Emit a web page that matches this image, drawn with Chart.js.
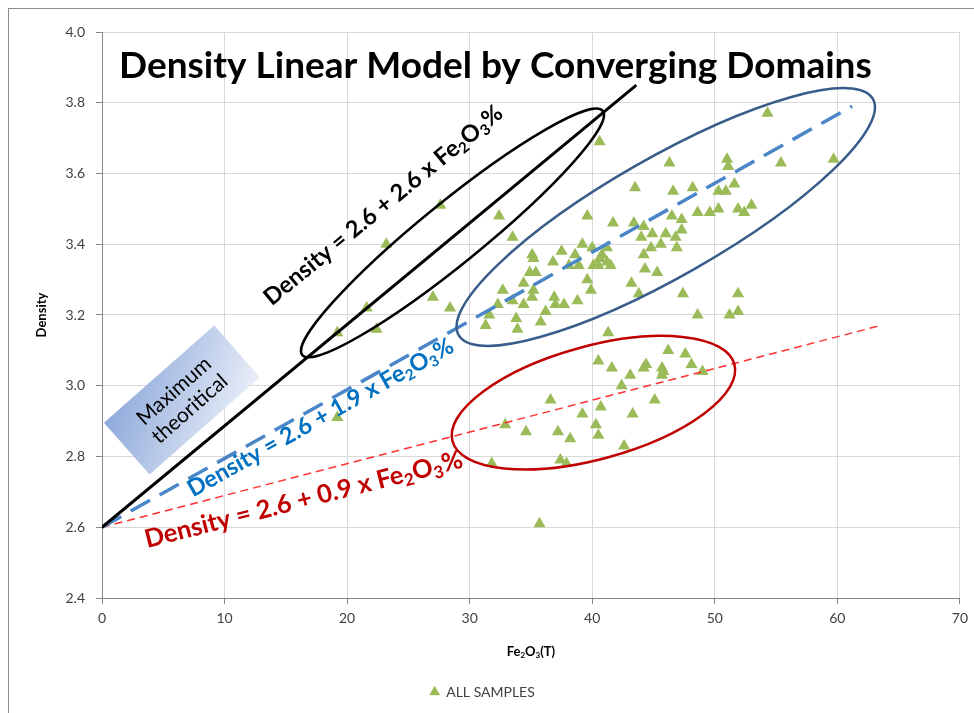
<!DOCTYPE html>
<html>
<head>
<meta charset="utf-8">
<script src="https://cdn.jsdelivr.net/npm/chart.js@4.4.1/dist/chart.umd.min.js"></script>
<style>
  html, body { margin: 0; padding: 0; background: #fff; overflow: hidden; }
  #wrap { width: 974px; height: 713px; }
</style>
</head>
<body>
<div id="wrap"><canvas id="c" width="974" height="713"></canvas></div>
<script>
// ── samples (Fe2O3 %, density) ──
const sampleX = [19.2, 19.2, 21.6, 22.4, 23.2, 27.6, 27.0, 28.4, 32.4, 33.5, 40.6, 39.6, 35.1, 35.2, 37.5, 36.8, 38.6, 38.1, 38.9, 39.2,
  40.0, 40.1, 34.9, 35.4, 34.4, 35.2, 35.1, 32.7, 33.5, 32.3, 34.4, 36.9, 37.0, 37.7, 38.8, 39.6, 39.9, 36.2, 35.8, 31.6,
  31.3, 33.8, 33.9, 46.3, 51.0, 51.1, 43.5, 46.6, 48.2, 50.3, 50.9, 51.6, 53.0, 51.9, 52.4, 48.6, 49.6, 50.3, 41.7, 43.4,
  46.5, 47.3, 47.3, 44.2, 44.0, 44.9, 46.0, 46.8, 45.6, 44.8, 46.9, 41.2, 40.8, 41.2, 40.6, 41.5, 40.5, 44.2, 44.3, 45.3,
  43.2, 43.8, 47.4, 51.9, 48.6, 51.2, 51.9, 41.3, 54.3, 55.4, 59.7, 40.5, 41.6, 36.6, 39.2, 40.7, 40.3, 40.5, 32.9, 34.6,
  37.2, 38.2, 31.8, 37.4, 37.9, 35.7, 46.2, 47.6, 48.1, 49.0, 43.1, 44.4, 44.2, 45.7, 45.8, 45.7, 42.4, 45.1, 43.3, 42.6];
const sampleY = [2.91, 3.15, 3.22, 3.16, 3.40, 3.51, 3.25, 3.22, 3.48, 3.42, 3.69, 3.48, 3.37, 3.36, 3.38, 3.35, 3.37, 3.34, 3.34, 3.40,
  3.39, 3.34, 3.32, 3.32, 3.29, 3.27, 3.25, 3.27, 3.24, 3.23, 3.23, 3.25, 3.23, 3.23, 3.24, 3.30, 3.27, 3.21, 3.18, 3.20,
  3.17, 3.19, 3.16, 3.63, 3.64, 3.62, 3.56, 3.55, 3.56, 3.55, 3.55, 3.57, 3.51, 3.50, 3.49, 3.49, 3.49, 3.50, 3.46, 3.46,
  3.48, 3.47, 3.44, 3.45, 3.42, 3.43, 3.43, 3.42, 3.40, 3.39, 3.39, 3.39, 3.37, 3.35, 3.36, 3.34, 3.34, 3.37, 3.33, 3.32,
  3.29, 3.26, 3.26, 3.26, 3.20, 3.20, 3.21, 3.15, 3.77, 3.63, 3.64, 3.07, 3.05, 2.96, 2.92, 2.94, 2.89, 2.86, 2.89, 2.87,
  2.87, 2.85, 2.78, 2.79, 2.78, 2.61, 3.10, 3.09, 3.06, 3.04, 3.03, 3.06, 3.05, 3.05, 3.04, 3.03, 3.00, 2.96, 2.92, 2.83];

// ── model lines (end points) ──
const maxLineX = [0, 43.6],  maxLineY = [2.6, 3.85];
const blueLineX = [0, 61.2], blueLineY = [2.6, 3.79];
const redLineX = [0, 63.5],  redLineY = [2.6, 3.17];

// ── axes ──
const xMin = 0, xMax = 70, xStep = 10;
const yMin = 2.4, yMax = 4.0, yStep = 0.2;

// ── annotations: domain ellipses (centre, end of major axis, minor/major ratio) ──
const ellipseCx = [28.6, 46.0, 40.1];
const ellipseCy = [3.432, 3.477, 2.952];
const ellipseEx = [40.86, 62.9, 51.6];
const ellipseEy = [3.777, 3.811, 3.061];
const ellipseRatio = [0.158, 0.249, 0.387];
const ellipseColor = ['#000000', '#385d8a', '#c00000'];

// equation labels
const eqCoef = ['2.6', '1.9', '0.9'];
const eqX = [22.95, 17.84, 16.46];
const eqY = [3.51, 2.91, 2.678];
const eqAngle = [-39.3, -29.2, -14.3];
const eqSize = [23.5, 23.5, 25.5];
const eqColor = ['#000000', '#0070c0', '#c00000'];

const FONT = 'Lato, "Open Sans", sans-serif';

function toPts(xs, ys) { return xs.map((x, i) => ({ x, y: ys[i] })); }

function drawRich(ctx, parts, x, y, angleDeg, size, color, weight) {
  ctx.save();
  ctx.translate(x, y);
  ctx.rotate(angleDeg * Math.PI / 180);
  ctx.fillStyle = color;
  ctx.textBaseline = 'middle';
  ctx.textAlign = 'left';
  const big = `${weight} ${size}px ${FONT}`, small = `${weight} ${Math.round(size * 0.65)}px ${FONT}`;
  let w = 0;
  parts.forEach(p => { ctx.font = p.sub ? small : big; w += ctx.measureText(p.t).width; });
  let cx = -w / 2;
  parts.forEach(p => {
    ctx.font = p.sub ? small : big;
    ctx.fillText(p.t, cx, p.sub ? size * 0.28 : 0);
    cx += ctx.measureText(p.t).width;
  });
  ctx.restore();
}

function eqParts(c) {
  return [{ t: 'Density = 2.6 + ' + c + ' x Fe' }, { t: '2', sub: true }, { t: 'O' }, { t: '3', sub: true }, { t: '%' }];
}

const decor = {
  id: 'decor',
  beforeDraw(chart) {
    const ctx = chart.ctx;
    ctx.save();
    ctx.strokeStyle = '#8c8c8c';
    ctx.lineWidth = 1;
    ctx.strokeRect(8.5, 8.5, 1200, 1200);
    ctx.restore();
  },
  afterDatasetsDraw(chart) {
    const ctx = chart.ctx, xs = chart.scales.x, ys = chart.scales.y;
    const px = v => xs.getPixelForValue(v), py = v => ys.getPixelForValue(v);

    // ellipses
    ellipseCx.forEach((cx, i) => {
      const x0 = px(cx), y0 = py(ellipseCy[i]);
      const x1 = px(ellipseEx[i]), y1 = py(ellipseEy[i]);
      const a = Math.hypot(x1 - x0, y1 - y0), rot = Math.atan2(y1 - y0, x1 - x0);
      ctx.save();
      ctx.beginPath();
      ctx.ellipse(x0, y0, a, a * ellipseRatio[i], rot, 0, Math.PI * 2);
      ctx.strokeStyle = ellipseColor[i];
      ctx.lineWidth = 2.5;
      ctx.stroke();
      ctx.restore();
    });

    // "Maximum theoritical" box (gradient runs left -> right on screen)
    ctx.save();
    ctx.translate(px(6.52), py(2.96));
    const ang = -41.4 * Math.PI / 180, co = Math.cos(ang), si = Math.sin(ang);
    const bw = 147, bh = 69;
    const corner = (u, v) => [u * co - v * si, u * si + v * co];
    ctx.beginPath();
    [[-1, -1], [1, -1], [1, 1], [-1, 1]].forEach(([su, sv], k) => {
      const [cx, cy] = corner(su * bw / 2, sv * bh / 2);
      if (k === 0) ctx.moveTo(cx, cy); else ctx.lineTo(cx, cy);
    });
    ctx.closePath();
    const g = ctx.createLinearGradient(-68, -24, 68, 24);
    g.addColorStop(0, '#8aa6d9');
    g.addColorStop(1, '#eef2fa');
    ctx.fillStyle = g;
    ctx.fill();
    ctx.rotate(ang);
    ctx.fillStyle = '#000';
    ctx.font = `21px ${FONT}`;
    ctx.textAlign = 'center';
    ctx.textBaseline = 'middle';
    ctx.fillText('Maximum', 0, -12);
    ctx.fillText('theoritical', 0, 12);
    ctx.restore();

    // equation labels
    eqCoef.forEach((c, i) => drawRich(ctx, eqParts(c), px(eqX[i]), py(eqY[i]), eqAngle[i], eqSize[i], eqColor[i], 'bold'));

    // title
    ctx.save();
    ctx.fillStyle = '#000';
    ctx.font = `bold 37px ${FONT}`;
    ctx.textAlign = 'center';
    ctx.textBaseline = 'middle';
    ctx.fillText('Density Linear Model by Converging Domains', px(32.1), py(3.905));
    ctx.restore();

    // x axis title with subscripts
    drawRich(ctx, [{ t: 'Fe' }, { t: '2', sub: true }, { t: 'O' }, { t: '3', sub: true }, { t: '(T)' }],
      (chart.chartArea.left + chart.chartArea.right) / 2, xs.bottom - 23, 0, 13, '#000', 'bold');
  }
};

new Chart(document.getElementById('c'), {
  type: 'scatter',
  data: {
    datasets: [
      {
        label: 'ALL SAMPLES', data: toPts(sampleX, sampleY), order: 5,
        pointStyle: 'triangle', pointRadius: 7, pointHoverRadius: 7,
        backgroundColor: '#9bbb59', borderColor: '#9bbb59', borderWidth: 0
      },
      { type: 'line', label: 'max', data: toPts(maxLineX, maxLineY), borderColor: '#000', borderWidth: 3, pointRadius: 0, fill: false },
      { type: 'line', label: 'blue', data: toPts(blueLineX, blueLineY), borderColor: '#4a86c8', borderWidth: 3.5, borderDash: [22, 11], pointRadius: 0, fill: false },
      { type: 'line', label: 'red', data: toPts(redLineX, redLineY), borderColor: '#ff3030', borderWidth: 1.5, borderDash: [8, 5], pointRadius: 0, fill: false }
    ]
  },
  options: {
    responsive: false,
    animation: false,
    devicePixelRatio: 1,
    layout: { padding: { left: 0, top: 32, right: 9, bottom: 4 } },
    plugins: {
      tooltip: { enabled: false },
      legend: {
        position: 'bottom',
        labels: {
          filter: it => it.datasetIndex === 0,
          usePointStyle: true, pointStyle: 'triangle', boxWidth: 9, boxHeight: 9,
          color: '#404040', font: { family: FONT, size: 14 }, padding: 10
        }
      }
    },
    scales: {
      x: {
        type: 'linear', min: xMin, max: xMax,
        ticks: { stepSize: xStep, color: '#404040', font: { family: FONT, size: 14 }, padding: 6 },
        grid: { color: '#d9d9d9', tickLength: 6, tickColor: '#868686' },
        border: { color: '#868686' },
        afterFit: s => { s.height = 77; }
      },
      y: {
        min: yMin, max: yMax,
        ticks: { stepSize: yStep, color: '#404040', font: { family: FONT, size: 14 }, padding: 11, callback: v => v.toFixed(1) },
        grid: { color: '#d9d9d9', tickLength: 6, tickColor: '#868686' },
        border: { color: '#868686' },
        title: { display: true, text: 'Density', color: '#000', font: { family: FONT, size: 13, weight: 'bold' }, padding: { top: 34, bottom: 0 } },
        afterFit: s => { s.width = 102; }
      }
    }
  },
  plugins: [decor]
});
</script>
</body>
</html>
